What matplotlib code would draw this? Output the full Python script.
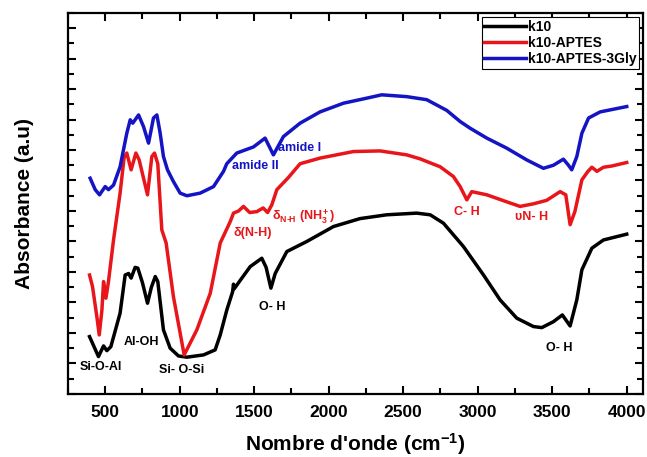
import numpy as np
import matplotlib
matplotlib.use('Agg')
from matplotlib import pyplot as plt
from matplotlib.ticker import MultipleLocator

plt.rcParams['font.family'] = ['Liberation Sans', 'DejaVu Sans']
plt.rcParams['font.weight'] = 'bold'
plt.rcParams['mathtext.fontset'] = 'custom'
plt.rcParams['mathtext.rm'] = 'Liberation Sans:bold'
plt.rcParams['mathtext.it'] = 'Liberation Sans:bold'
plt.rcParams['mathtext.bf'] = 'Liberation Sans:bold'

# k10
k10_x = [395, 455, 489, 511, 538, 600, 634, 657, 674, 701, 719, 750, 784, 810, 836, 853, 891, 936,
         992, 1048, 1160, 1238, 1272, 1316, 1355, 1361, 1366, 1410, 1473, 1551, 1580, 1612, 1641,
         1719, 1853, 2032, 2210, 2389, 2590, 2681, 2770, 2904, 3039, 3150, 3262, 3374, 3430,
         3508, 3568, 3620, 3665, 3699, 3766, 3844, 4000]
k10_y = [3.76, 2.45, 3.15, 2.84, 3.1, 5.3, 7.8, 7.9, 7.6, 8.3, 8.25, 7.3, 5.95, 7.0, 7.7, 7.37, 4.2, 3.0,
         2.49, 2.41, 2.56, 2.89, 3.87, 5.5, 6.7, 7.2, 6.9, 7.5, 8.35, 8.9, 8.3, 6.94, 7.9,
         9.34, 10.0, 10.98, 11.5, 11.75, 11.86, 11.75, 11.2, 9.67, 7.8, 6.17, 4.97, 4.42, 4.35,
         4.74, 5.18, 4.46, 6.17, 8.14, 9.56, 10.1, 10.48]

# k10-APTES
aptes_x = [395, 415, 444, 460, 478, 489, 505, 522, 556, 600, 627, 645, 674, 706, 728, 784, 813, 831,
           853, 880, 909, 958, 1030, 1115, 1205, 1272, 1339, 1361, 1395, 1428, 1470, 1518, 1560,
           1590, 1618, 1652, 1730, 1808, 1942, 2166, 2345, 2524, 2613, 2748, 2837, 2882, 2927,
           2960, 3061, 3195, 3284, 3374, 3463, 3553, 3591, 3620, 3652, 3699, 3740, 3766, 3800,
           3844, 3900, 4000]
aptes_y = [7.8, 7.04, 5.07, 3.87, 5.5, 7.37, 6.28, 7.37, 10.1, 13.17, 15.5, 15.8, 14.7, 15.8, 15.35,
           13.06, 15.57, 15.8, 15.1, 10.76, 9.9, 6.38, 2.56, 4.2, 6.6, 9.9, 11.3, 11.86, 12.0, 12.3,
           11.9, 11.96, 12.2, 11.9, 12.4, 13.4, 14.2, 15.1, 15.47, 15.9, 15.94, 15.68, 15.42, 14.9,
           14.26, 13.6, 12.73, 13.27, 13.06, 12.6, 12.3, 12.47, 12.7, 13.27, 13.06, 11.1, 11.96,
           14.04, 14.6, 14.87, 14.6, 14.87, 14.95, 15.18]

# k10-APTES-3Gly
gly_x = [399, 433, 462, 500, 522, 556, 600, 645, 668, 685, 724, 757, 791, 824, 847, 869, 891, 918,
         958, 1003, 1048, 1137, 1227, 1294, 1316, 1383, 1495, 1573, 1629, 1696, 1808, 1942, 2099,
         2255, 2356, 2524, 2658, 2792, 2882, 2949, 3061, 3195, 3329, 3441, 3508, 3575, 3609, 3631,
         3665, 3699, 3744, 3822, 4000]
gly_y = [14.15, 13.4, 13.06, 13.6, 13.4, 13.7, 14.9, 17.1, 17.98, 17.76, 18.3, 17.54, 16.45, 18.1,
         18.3, 17.1, 15.57, 14.7, 13.93, 13.17, 13.0, 13.17, 13.6, 14.6, 15.1, 15.8, 16.2, 16.78,
         15.68, 16.88, 17.76, 18.5, 19.07, 19.4, 19.62, 19.5, 19.3, 18.6, 17.87, 17.43, 16.78,
         16.12, 15.35, 14.8, 15.0, 15.4, 15.0, 14.7, 15.57, 17.1, 18.1, 18.5, 18.85]

red = '#e8161b'
blue = '#1414c4'

fig = plt.figure(figsize=(6.47, 4.57), dpi=100)
ax = fig.add_axes([0.105, 0.138, 0.889, 0.834])

ax.plot(k10_x, k10_y, color='black', lw=2.5, label='k10')
ax.plot(aptes_x, aptes_y, color=red, lw=2.5, label='k10-APTES')
ax.plot(gly_x, gly_y, color=blue, lw=2.5, label='k10-APTES-3Gly')

ax.set_xlim(250, 4110)
ax.set_ylim(0, 25)
ax.xaxis.set_major_locator(MultipleLocator(500))
ax.xaxis.set_minor_locator(MultipleLocator(250))
ax.yaxis.set_major_locator(MultipleLocator(2))
ax.yaxis.set_minor_locator(MultipleLocator(1))
ax.tick_params(which='both', direction='in', top=True, right=True, width=1.5)
ax.tick_params(which='major', length=6)
ax.tick_params(which='minor', length=4)
ax.tick_params(axis='x', labelsize=12.5, pad=8)
ax.set_yticklabels([])
for s in ax.spines.values():
    s.set_linewidth(1.6)

ax.set_xlabel("Nombre d'onde (cm$^{-1}$)", fontsize=15, fontweight='bold', labelpad=8)
ax.set_ylabel('Absorbance (a.u)', fontsize=15, fontweight='bold', labelpad=21)

fs = 9
ax.text(1661, 16.14, 'amide I', color=blue, fontsize=fs, va='center')
ax.text(1352, 14.96, 'amide II', color=blue, fontsize=fs, va='center')
ax.text(1359, 10.56, 'δ(N-H)', color=red, fontsize=fs, va='center')
ax.text(1620, 11.6, r'δ$_{\rm N\text{-}H}$ (NH$_3^+$)', color=red, fontsize=fs, va='center')
ax.text(2930, 11.94, 'C- H', color=red, fontsize=fs, va='center', ha='center')
ax.text(3359, 11.6, 'υN- H', color=red, fontsize=fs, va='center', ha='center')
ax.text(3547, 3.0, 'O- H', color='black', fontsize=fs, va='center', ha='center')
ax.text(1620, 5.7, 'O- H', color='black', fontsize=fs, va='center', ha='center')
ax.text(473, 1.77, 'Si-O-Al', color='black', fontsize=fs, va='center', ha='center')
ax.text(741, 3.4, 'Al-OH', color='black', fontsize=fs, va='center', ha='center')
ax.text(1013, 1.57, 'Si- O-Si', color='black', fontsize=fs, va='center', ha='center')

leg = ax.legend(loc='upper right', fontsize=10, handlelength=3, handletextpad=0.1,
                labelspacing=0.15, borderpad=0.2, fancybox=False, edgecolor='black',
                framealpha=1, borderaxespad=0.3)
leg.get_frame().set_linewidth(0.8)

fig.savefig('out.png', dpi=100)
